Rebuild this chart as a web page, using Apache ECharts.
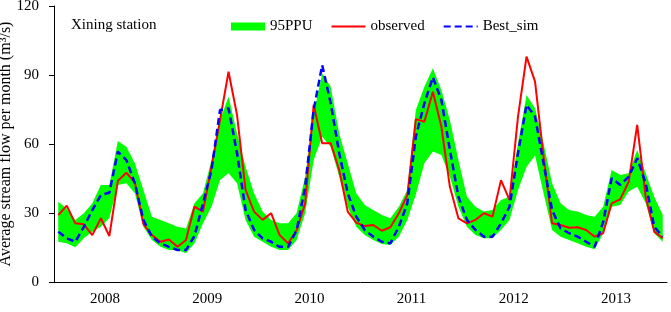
<!DOCTYPE html>
<html>
<head>
<meta charset="utf-8">
<script src="https://cdn.jsdelivr.net/npm/echarts@6/dist/echarts.min.js"></script>
<style>
  html, body { margin: 0; padding: 0; background: #fff; }
  #show_picture { width: 671px; height: 312px; }
</style>
</head>
<body>
<div id="show_picture"></div>
<script>
// years on the visible axis, 12 months each
const years = ['2008', '2009', '2010', '2011', '2012', '2013'];
const yTicks = [0, 30, 60, 90, 120];

// monthly stream flow, m3/s
const observed = [
    29.1, 33.2, 25.5, 25.1, 20.4, 27.7, 20, 44, 47.5, 43.2, 25.2, 20.4,
    17.5, 18.5, 15.3, 18.3, 32.8, 30.6, 50.1, 70.4, 91.4, 72.6, 40, 30.6,
    27, 29.9, 20.4, 16.8, 22.6, 34.2, 77, 60.3, 60.3, 48.7, 30.6, 25.8,
    24.3, 24.8, 22.3, 23.8, 29.9, 37.8, 70.8, 69.7, 82.7, 67.5, 41.4, 27.7,
    25.5, 27, 29.9, 28.4, 44.3, 35.7, 71.9, 98, 87.1, 54.5, 25.5, 24.8,
    23.6, 23.8, 22.6, 19.7, 21.2, 34.2, 35.9, 43.6, 68.3, 37, 21.9, 19
];
const bestSim = [
    21.9, 19, 17.5, 24, 31.3, 37.8, 38.8, 56.7, 53, 42.9, 27, 19.7,
    16.8, 15.3, 13.9, 13.9, 20, 34.2, 48.7, 74.8, 75.5, 56, 31.3, 22.6,
    19, 17.5, 15.3, 15.3, 22.6, 41.4, 74.8, 94.3, 77.7, 56, 38.6, 28.4,
    22.6, 19.7, 17.5, 16.8, 24, 34.2, 63.2, 77.7, 89, 79.1, 57.4, 37.1,
    27, 22.6, 19.7, 19.7, 25.5, 32.7, 56, 77, 71.9, 51.6, 31.3, 23.3,
    21.2, 19.7, 17.5, 15.3, 26, 45.1, 42.2, 45.8, 53.8, 42.9, 24, 19.7
];
const ppuUpper = [
    34.9, 32, 27, 29.9, 34.2, 42.2, 42.2, 61.3, 58.8, 51.6, 40, 28.4,
    27, 25.5, 24, 23.3, 34.2, 38.6, 53, 70.4, 80.6, 64.6, 50.1, 38.6,
    30.6, 27, 25.5, 25.5, 30, 45.8, 73, 90.7, 84.9, 64.6, 51.6, 38.6,
    33.5, 31.3, 29.1, 27.7, 32.7, 40, 74.8, 84.9, 92.9, 83.5, 70.4, 53,
    37.1, 32.7, 30.6, 31.3, 35.7, 37.1, 60.3, 81.3, 75.5, 60.3, 42.9, 34.2,
    31.3, 30.6, 29.1, 28.4, 32.7, 48.7, 46.5, 47.3, 57.4, 47.3, 37.1, 29.1
];
const ppuLower = [
    17.5, 16.8, 15.1, 19, 21.9, 24, 27.8, 42.2, 42.9, 38.6, 24, 18.3,
    15.3, 13.9, 13.9, 12.5, 16.8, 25.5, 32.7, 44.3, 47.3, 42.9, 27, 19.7,
    17.5, 15.3, 13.9, 13.9, 18.3, 29.9, 53, 63.2, 58.8, 45.8, 32.7, 24,
    20.4, 18.3, 16.5, 16.1, 19.7, 27, 38, 51.6, 56.7, 55.2, 45.8, 32.7,
    24, 20.4, 19, 19, 22.6, 27, 40, 50, 55, 38.6, 22.6, 19.7,
    18.3, 16.8, 15.3, 14.2, 21.2, 32.7, 33.5, 39.3, 41.4, 34.2, 21.2, 17.5
];

let months = observed.map((_, i) => years[Math.floor(i / 12)] + '-' + (i % 12 + 1));
let ppuWidth = ppuUpper.map((v, i) => +(v - ppuLower[i]).toFixed(1));

const serif = '"Liberation Serif", "Times New Roman", serif';

let myChart = echarts.init(document.getElementById('show_picture'));
let option = {
    animation: false,
    textStyle: { fontFamily: serif, color: '#000' },
    grid: { left: 54, right: 4, top: 6, bottom: 30, outerBoundsMode: 'none', containLabel: false },
    title: {
        text: 'Xining station',
        left: 66,
        top: 13,
        textStyle: { fontFamily: serif, fontSize: 15, fontWeight: 'normal', color: '#000' }
    },
    legend: {
        left: 226,
        top: 14,
        itemWidth: 34,
        itemHeight: 8,
        itemGap: 18,
        textStyle: { fontFamily: serif, fontSize: 15, color: '#000' },
        data: [
            { name: '95PPU', icon: 'rect' },
            { name: 'observed', itemStyle: { opacity: 0 } },
            { name: 'Best_sim', itemStyle: { opacity: 0 } }
        ]
    },
    xAxis: [
        {
            type: 'category',
            data: years,
            boundaryGap: true,
            axisLine: { lineStyle: { color: '#000', width: 1 } },
            axisTick: { length: 5, lineStyle: { color: '#000' } },
            axisLabel: { fontFamily: serif, fontSize: 15, color: '#000', margin: 10 }
        },
        {
            type: 'category',
            data: months,
            boundaryGap: true,
            show: false
        }
    ],
    yAxis: {
        type: 'value',
        min: yTicks[0],
        max: yTicks[yTicks.length - 1],
        interval: 30,
        name: 'Average stream flow per month (m³/s)',
        nameLocation: 'middle',
        nameGap: 40,
        nameMoveOverlap: false,
        nameTextStyle: { fontFamily: serif, fontSize: 16, color: '#000' },
        axisLine: { show: true, lineStyle: { color: '#000', width: 1 } },
        axisTick: { show: true, length: 5, lineStyle: { color: '#000' } },
        axisLabel: { fontFamily: serif, fontSize: 15, color: '#000', margin: 15 },
        splitLine: { show: false }
    },
    series: [
        {
            name: 'lower',
            type: 'line',
            xAxisIndex: 1,
            stack: 'band',
            data: ppuLower,
            symbol: 'none',
            silent: true,
            lineStyle: { opacity: 0 }
        },
        {
            name: '95PPU',
            type: 'line',
            xAxisIndex: 1,
            stack: 'band',
            data: ppuWidth,
            symbol: 'none',
            color: '#00ff00',
            lineStyle: { opacity: 0 },
            areaStyle: { color: '#00ff00', opacity: 1 }
        },
        {
            name: 'observed',
            type: 'line',
            xAxisIndex: 1,
            data: observed,
            symbol: 'none',
            color: '#ff0000',
            lineStyle: { color: '#ff0000', width: 2 }
        },
        {
            name: 'Best_sim',
            type: 'line',
            xAxisIndex: 1,
            data: bestSim,
            symbol: 'none',
            color: '#0000ff',
            lineStyle: { color: '#0000ff', width: 2.5, type: [7, 4] }
        }
    ]
};

option && myChart.setOption(option);
</script>
</body>
</html>
